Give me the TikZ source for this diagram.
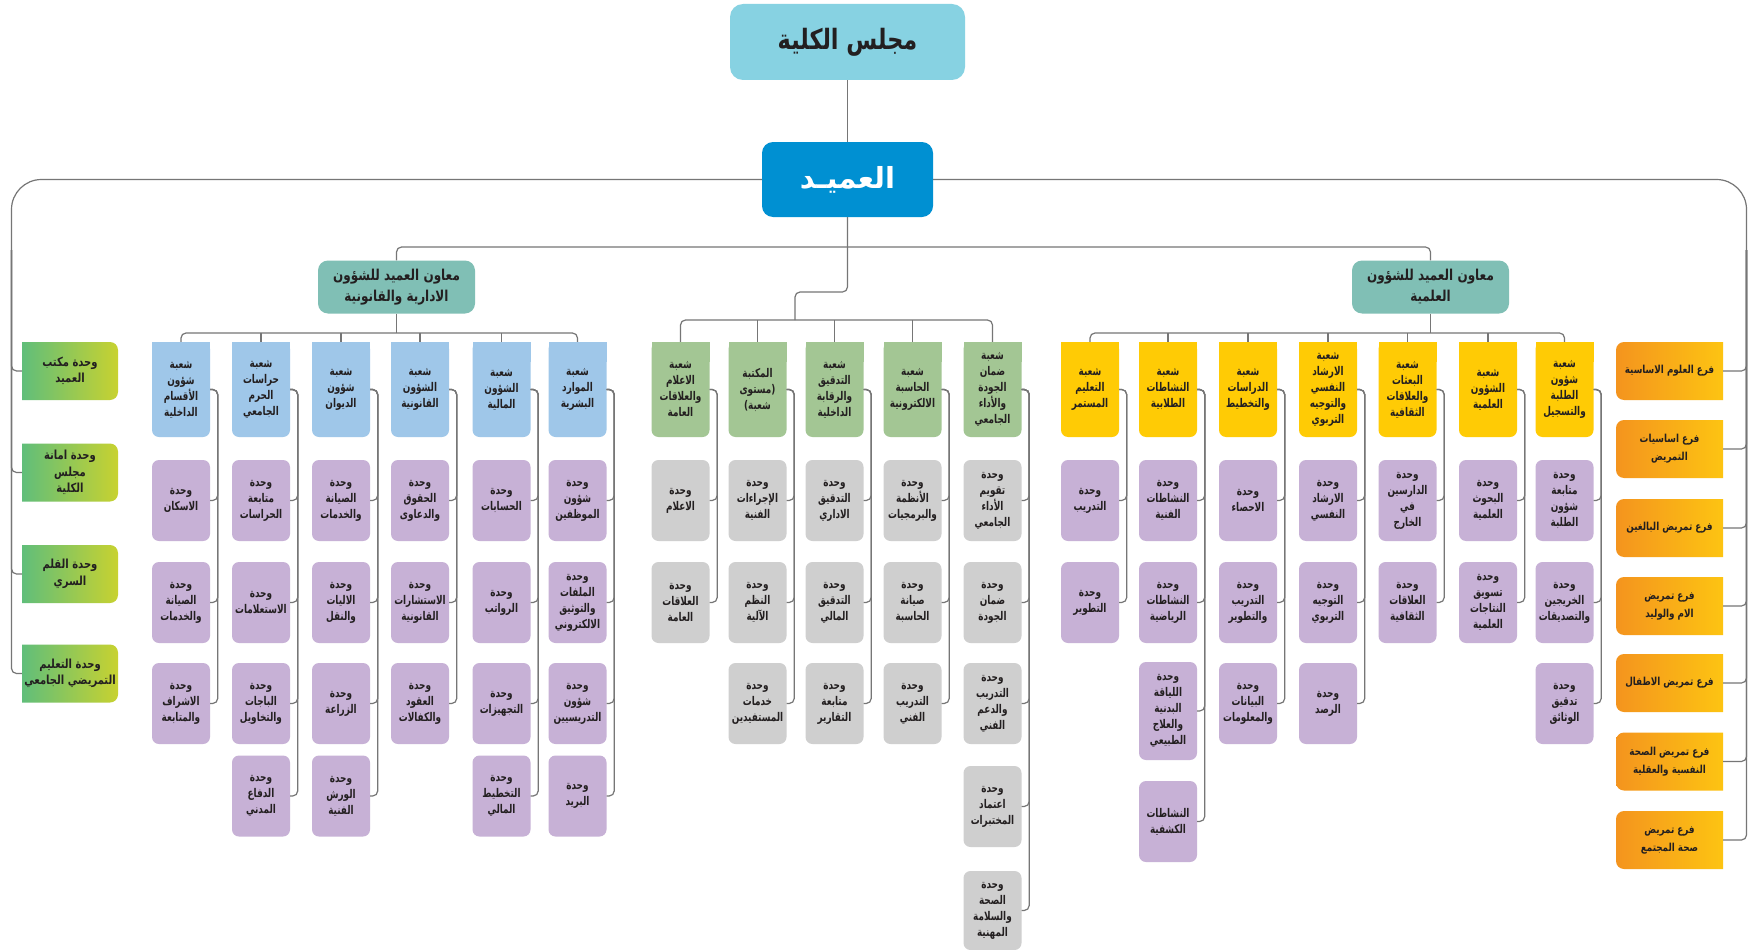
\documentclass[tikz,border=0pt]{standalone}
\usepackage{fontspec}
\TeXXeTstate=1
\newfontfamily\arabicfont[Script=Arabic, FakeStretch=0.8]{DejaVu Sans}
\newfontfamily\arabicnarrow[Script=Arabic, FakeStretch=0.74]{DejaVu Sans}
\newfontfamily\arabicwide[Script=Arabic]{DejaVu Sans}
\newcommand{\ar}[1]{\beginR #1\endR}
\definecolor{lnC}{RGB}{118,118,118}
\definecolor{councilC}{RGB}{135,210,226}
\definecolor{deanC}{RGB}{0,144,210}
\definecolor{vpC}{RGB}{128,191,181}
\definecolor{blueC}{RGB}{159,199,233}
\definecolor{purC}{RGB}{199,177,214}
\definecolor{grayC}{RGB}{207,207,207}
\definecolor{ghC}{RGB}{163,198,148}
\definecolor{yelC}{RGB}{255,203,5}
\definecolor{gL}{RGB}{96,190,122}
\definecolor{gR}{RGB}{200,210,48}
\definecolor{oL}{RGB}{244,148,30}
\definecolor{oR}{RGB}{253,196,18}
\definecolor{txC}{RGB}{35,31,32}
% header box with square top corners: name, cx, colour, text
\newcommand{\hdr}[4]{%
  \fill[#3] (#2-29,342) rectangle (#2+29,362);
  \node[cbox, fill=#3, minimum height=95pt] (#1) at (#2,389.5) {#4};}
% column connector from header to child
\newcommand{\cn}[2]{\draw[line] (#1.east) -- ++(7.5,0) |- (#2.east);}
% green box (square left corners): name, cy, text
\newcommand{\grn}[3]{%
  \shade[left color=gL, right color=gR, rounded corners=8pt] (22,#2-29) rectangle (118,#2+29) [sharp corners] (22,#2-29) rectangle (45,#2+29);
  \node[gtxt, minimum width=96pt, minimum height=58pt] (#1) at (70,#2) {#3};}
% orange box (square right corners): name, cy, text
\newcommand{\org}[3]{%
  \shade[left color=oL, right color=oR, rounded corners=8pt] (1616,#2-29) rectangle (1723,#2+29) [sharp corners] (1695,#2-29) rectangle (1723,#2+29);
  \node[otxt, minimum width=107pt, minimum height=58pt] (#1) at (1669.5,#2) {#3};}
\begin{document}
\begin{tikzpicture}[x=1pt,y=-1pt,
  line/.style={draw=lnC, line width=1.2pt, rounded corners=5pt},
  txt/.style={font=\arabicnarrow\bfseries\fontsize{12}{16}\selectfont, align=center, inner sep=0pt, text=txC},
  cbox/.style={txt, minimum width=58pt, minimum height=81pt, rounded corners=7pt},
  pu/.style={cbox, fill=purC},
  gy/.style={cbox, fill=grayC},
  gtxt/.style={font=\arabicfont\bfseries\fontsize{12.5}{16.5}\selectfont, align=center, inner sep=0pt, text=txC},
  otxt/.style={font=\arabicfont\bfseries\fontsize{11}{18}\selectfont, align=center, inner sep=0pt, text=txC},
  vp/.style={fill=vpC, rounded corners=10pt, minimum width=157pt, minimum height=53pt, inner sep=0pt, align=center, text=txC, font=\arabicfont\bfseries\fontsize{15}{21}\selectfont}
]
\useasboundingbox (0,0) rectangle (1749,950);
\fill[white] (0,0) rectangle (1749,950);

% top
\node[fill=councilC, rounded corners=13pt, minimum width=235pt, minimum height=76pt, text=txC, font=\arabicfont\bfseries\fontsize{28}{32}\selectfont] (council) at (847.5,42) {\ar{مجلس الكلية}};
\node[fill=deanC, rounded corners=11pt, minimum width=171pt, minimum height=75pt, text=white, font=\arabicwide\bfseries\fontsize{29}{32}\selectfont] (dean) at (847.5,179.5) {\ar{العميـد}};
\node[vp] (vpA) at (396.5,287) {\ar{معاون العميد للشؤون}\\\ar{الادارية والقانونية}};
\node[vp] (vpS) at (1430.5,287) {\ar{معاون العميد للشؤون}\\\ar{العلمية}};

% left green units
\grn{grn1}{371}{\ar{وحدة مكتب}\\\ar{العميد}}
\grn{grn2}{472.5}{\ar{وحدة امانة}\\\ar{مجلس}\\\ar{الكلية}}
\grn{grn3}{574}{\ar{وحدة القلم}\\\ar{السري}}
\grn{grn4}{673.5}{\ar{وحدة التعليم}\\\ar{التمريضي الجامعي}}

% right orange branches
\org{org1}{371}{\ar{فرع العلوم الاساسية}}
\org{org2}{449}{\ar{فرع اساسيات}\\\ar{التمريض}}
\org{org3}{528}{\ar{فرع تمريض البالغين}}
\org{org4}{606}{\ar{فرع تمريض}\\\ar{الام والوليد}}
\org{org5}{683}{\ar{فرع تمريض الاطفال}}
\org{org6}{761.5}{\ar{فرع تمريض الصحة}\\\ar{النفسية والعقلية}}
\org{org7}{840}{\ar{فرع تمريض}\\\ar{صحة المجتمع}}

% ---------- blue (administrative) ----------
\hdr{A}{181}{blueC}{\ar{شعبة}\\\ar{شؤون}\\\ar{الأقسام}\\\ar{الداخلية}}
\node[pu] (a1) at (181,500.5) {\ar{وحدة}\\\ar{الاسكان}};
\node[pu] (a2) at (181,602.5) {\ar{وحدة}\\\ar{الصيانة}\\\ar{والخدمات}};
\node[pu] (a3) at (181,703.5) {\ar{وحدة}\\\ar{الاشراف}\\\ar{والمتابعة}};
\hdr{B}{261}{blueC}{\ar{شعبة}\\\ar{حراسات}\\\ar{الحرم}\\\ar{الجامعي}}
\node[pu] (b1) at (261,500.5) {\ar{وحدة}\\\ar{متابعة}\\\ar{الحراسات}};
\node[pu] (b2) at (261,602.5) {\ar{وحدة}\\\ar{الاستعلامات}};
\node[pu] (b3) at (261,703.5) {\ar{وحدة}\\\ar{الباجات}\\\ar{والتخاويل}};
\node[pu] (b4) at (261,796) {\ar{وحدة}\\\ar{الدفاع}\\\ar{المدني}};
\hdr{C}{341}{blueC}{\ar{شعبة}\\\ar{شؤون}\\\ar{الديوان}}
\node[pu] (c1) at (341,500.5) {\ar{وحدة}\\\ar{الصيانة}\\\ar{والخدمات}};
\node[pu] (c2) at (341,602.5) {\ar{وحدة}\\\ar{الاليات}\\\ar{والنقل}};
\node[pu] (c3) at (341,703.5) {\ar{وحدة}\\\ar{الزراعة}};
\node[pu] (c4) at (341,796) {\ar{وحدة}\\\ar{الورش}\\\ar{الفنية}};
\hdr{D}{420}{blueC}{\ar{شعبة}\\\ar{الشؤون}\\\ar{القانونية}}
\node[pu] (d1) at (420,500.5) {\ar{وحدة}\\\ar{الحقوق}\\\ar{والدعاوى}};
\node[pu] (d2) at (420,602.5) {\ar{وحدة}\\\ar{الاستشارات}\\\ar{القانونية}};
\node[pu] (d3) at (420,703.5) {\ar{وحدة}\\\ar{العقود}\\\ar{والكفالات}};
\hdr{E}{501.5}{blueC}{\ar{شعبة}\\\ar{الشؤون}\\\ar{المالية}}
\node[pu] (e1) at (501.5,500.5) {\ar{وحدة}\\\ar{الحسابات}};
\node[pu] (e2) at (501.5,602.5) {\ar{وحدة}\\\ar{الرواتب}};
\node[pu] (e3) at (501.5,703.5) {\ar{وحدة}\\\ar{التجهيزات}};
\node[pu] (e4) at (501.5,796) {\ar{وحدة}\\\ar{التخطيط}\\\ar{المالي}};
\hdr{F}{577.5}{blueC}{\ar{شعبة}\\\ar{الموارد}\\\ar{البشرية}}
\node[pu] (f1) at (577.5,500.5) {\ar{وحدة}\\\ar{شؤون}\\\ar{الموظفين}};
\node[pu] (f2) at (577.5,602.5) {\ar{وحدة}\\\ar{الملفات}\\\ar{والتوثيق}\\\ar{الالكتروني}};
\node[pu] (f3) at (577.5,703.5) {\ar{وحدة}\\\ar{شؤون}\\\ar{التدريسيين}};
\node[pu] (f4) at (577.5,796) {\ar{وحدة}\\\ar{البريد}};

% ---------- gray (dean's own divisions) ----------
\hdr{G}{680.5}{ghC}{\ar{شعبة}\\\ar{الاعلام}\\\ar{والعلاقات}\\\ar{العامة}}
\node[gy] (g1) at (680.5,500.5) {\ar{وحدة}\\\ar{الاعلام}};
\node[gy] (g2) at (680.5,602.5) {\ar{وحدة}\\\ar{العلاقات}\\\ar{العامة}};
\hdr{H}{757.5}{ghC}{\ar{المكتبة}\\\ar{(مستوى}\\\ar{شعبة)}}
\node[gy] (h1) at (757.5,500.5) {\ar{وحدة}\\\ar{الإجراءات}\\\ar{الفنية}};
\node[gy] (h2) at (757.5,602.5) {\ar{وحدة}\\\ar{النظم}\\\ar{الآلية}};
\node[gy] (h3) at (757.5,703.5) {\ar{وحدة}\\\ar{خدمات}\\\ar{المستفيدين}};
\hdr{I}{834.5}{ghC}{\ar{شعبة}\\\ar{التدقيق}\\\ar{والرقابة}\\\ar{الداخلية}}
\node[gy] (i1) at (834.5,500.5) {\ar{وحدة}\\\ar{التدقيق}\\\ar{الاداري}};
\node[gy] (i2) at (834.5,602.5) {\ar{وحدة}\\\ar{التدقيق}\\\ar{المالي}};
\node[gy] (i3) at (834.5,703.5) {\ar{وحدة}\\\ar{متابعة}\\\ar{التقارير}};
\hdr{J}{912.5}{ghC}{\ar{شعبة}\\\ar{الحاسبة}\\\ar{الالكترونية}}
\node[gy] (j1) at (912.5,500.5) {\ar{وحدة}\\\ar{الأنظمة}\\\ar{والبرمجيات}};
\node[gy] (j2) at (912.5,602.5) {\ar{وحدة}\\\ar{صيانة}\\\ar{الحاسبة}};
\node[gy] (j3) at (912.5,703.5) {\ar{وحدة}\\\ar{التدريب}\\\ar{الفني}};
\hdr{K}{992.5}{ghC}{\ar{شعبة}\\\ar{ضمان}\\\ar{الجودة}\\\ar{والأداء}\\\ar{الجامعي}}
\node[gy] (k1) at (992.5,500.5) {\ar{وحدة}\\\ar{تقويم}\\\ar{الأداء}\\\ar{الجامعي}};
\node[gy] (k2) at (992.5,602.5) {\ar{وحدة}\\\ar{ضمان}\\\ar{الجودة}};
\node[gy] (k3) at (992.5,703.5) {\ar{وحدة}\\\ar{التدريب}\\\ar{والدعم}\\\ar{الفني}};
\node[gy] (k4) at (992.5,806.5) {\ar{وحدة}\\\ar{اعتماد}\\\ar{المختبرات}};
\node[gy, minimum height=79pt] (k5) at (992.5,910.5) {\ar{وحدة}\\\ar{الصحة}\\\ar{والسلامة}\\\ar{المهنية}};

% ---------- yellow (scientific) ----------
\hdr{L}{1090}{yelC}{\ar{شعبة}\\\ar{التعليم}\\\ar{المستمر}}
\node[pu] (l1) at (1090,500.5) {\ar{وحدة}\\\ar{التدريب}};
\node[pu] (l2) at (1090,602.5) {\ar{وحدة}\\\ar{التطوير}};
\hdr{M}{1168}{yelC}{\ar{شعبة}\\\ar{النشاطات}\\\ar{الطلابية}}
\node[pu] (m1) at (1168,500.5) {\ar{وحدة}\\\ar{النشاطات}\\\ar{الفنية}};
\node[pu] (m2) at (1168,602.5) {\ar{وحدة}\\\ar{النشاطات}\\\ar{الرياضية}};
\node[pu, minimum height=98pt] (m3) at (1168,711) {\ar{وحدة}\\\ar{اللياقة}\\\ar{البدنية}\\\ar{والعلاج}\\\ar{الطبيعي}};
\node[pu] (m4) at (1168,821.5) {\ar{النشاطات}\\\ar{الكشفية}};
\hdr{N}{1248}{yelC}{\ar{شعبة}\\\ar{الدراسات}\\\ar{والتخطيط}}
\node[pu] (n1) at (1248,500.5) {\ar{وحدة}\\\ar{الاحصاء}};
\node[pu] (n2) at (1248,602.5) {\ar{وحدة}\\\ar{التدريب}\\\ar{والتطوير}};
\node[pu] (n3) at (1248,703.5) {\ar{وحدة}\\\ar{البيانات}\\\ar{والمعلومات}};
\hdr{O}{1328}{yelC}{\ar{شعبة}\\\ar{الارشاد}\\\ar{النفسي}\\\ar{والتوجيه}\\\ar{التربوي}}
\node[pu] (o1) at (1328,500.5) {\ar{وحدة}\\\ar{الارشاد}\\\ar{النفسي}};
\node[pu] (o2) at (1328,602.5) {\ar{وحدة}\\\ar{التوجيه}\\\ar{التربوي}};
\node[pu] (o3) at (1328,703.5) {\ar{وحدة}\\\ar{الرصد}};
\hdr{P}{1407.5}{yelC}{\ar{شعبة}\\\ar{البعثات}\\\ar{والعلاقات}\\\ar{الثقافية}}
\node[pu] (p1) at (1407.5,500.5) {\ar{وحدة}\\\ar{الدارسين}\\\ar{في}\\\ar{الخارج}};
\node[pu] (p2) at (1407.5,602.5) {\ar{وحدة}\\\ar{العلاقات}\\\ar{الثقافية}};
\hdr{Q}{1488}{yelC}{\ar{شعبة}\\\ar{الشؤون}\\\ar{العلمية}}
\node[pu] (q1) at (1488,500.5) {\ar{وحدة}\\\ar{البحوث}\\\ar{العلمية}};
\node[pu] (q2) at (1488,602.5) {\ar{وحدة}\\\ar{تسويق}\\\ar{النتاجات}\\\ar{العلمية}};
\hdr{R}{1564.5}{yelC}{\ar{شعبة}\\\ar{شؤون}\\\ar{الطلبة}\\\ar{والتسجيل}}
\node[pu] (r1) at (1564.5,500.5) {\ar{وحدة}\\\ar{متابعة}\\\ar{شؤون}\\\ar{الطلبة}};
\node[pu] (r2) at (1564.5,602.5) {\ar{وحدة}\\\ar{الخريجين}\\\ar{والتصديقات}};
\node[pu] (r3) at (1564.5,703.5) {\ar{وحدة}\\\ar{تدقيق}\\\ar{الوثائق}};

% ---------- connectors ----------
\coordinate (vbus) at (0,247);
\coordinate (bbus) at (0,333);
\coordinate (gbus) at (0,320);
\coordinate (gjog) at (795,292);
\coordinate (lrail) at (11.5,250);
\coordinate (rrail) at (1746.5,250);

\draw[line] (council.south) -- (dean.north);
\draw[line] (vpA.north) |- (vbus -| vpS.north) -- (vpS.north);
\draw[line] (dean.south) -- (dean.south |- gjog) -- (gjog) -- (gjog |- gbus);

\draw[line, rounded corners=30pt] (dean.west) -| (lrail);
\foreach \n in {grn1,grn2,grn3,grn4} {\draw[line] (lrail) |- (\n.west);}
\draw[line, rounded corners=30pt] (dean.east) -| (rrail);
\foreach \n in {org1,org2,org3,org4,org5,org6,org7} {\draw[line] (rrail) |- (\n.east);}

% blue bus
\draw[line] (A.north) |- (bbus -| F.north) -- (F.north);
\foreach \n in {B,C,D,E} {\draw[line] (\n.north) -- (\n.north |- bbus);}
\draw[line] (vpA.south) -- (vpA.south |- bbus);
% gray bus
\draw[line] (G.north) |- (gbus -| K.north) -- (K.north);
\foreach \n in {H,I,J} {\draw[line] (\n.north) -- (\n.north |- gbus);}
% yellow bus
\draw[line] (L.north) |- (bbus -| R.north) -- (R.north);
\foreach \n in {M,N,O,P,Q} {\draw[line] (\n.north) -- (\n.north |- bbus);}
\draw[line] (vpS.south) -- (vpS.south |- bbus);

% column connectors
\foreach \x in {a1,a2,a3} {\cn{A}{\x}}
\foreach \x in {b1,b2,b3,b4} {\cn{B}{\x}}
\foreach \x in {c1,c2,c3,c4} {\cn{C}{\x}}
\foreach \x in {d1,d2,d3} {\cn{D}{\x}}
\foreach \x in {e1,e2,e3,e4} {\cn{E}{\x}}
\foreach \x in {f1,f2,f3,f4} {\cn{F}{\x}}
\foreach \x in {g1,g2} {\cn{G}{\x}}
\foreach \x in {h1,h2,h3} {\cn{H}{\x}}
\foreach \x in {i1,i2,i3} {\cn{I}{\x}}
\foreach \x in {j1,j2,j3} {\cn{J}{\x}}
\foreach \x in {k1,k2,k3,k4,k5} {\cn{K}{\x}}
\foreach \x in {l1,l2} {\cn{L}{\x}}
\foreach \x in {m1,m2,m3,m4} {\cn{M}{\x}}
\foreach \x in {n1,n2,n3} {\cn{N}{\x}}
\foreach \x in {o1,o2,o3} {\cn{O}{\x}}
\foreach \x in {p1,p2} {\cn{P}{\x}}
\foreach \x in {q1,q2} {\cn{Q}{\x}}
\foreach \x in {r1,r2,r3} {\cn{R}{\x}}
\end{tikzpicture}
\end{document}
